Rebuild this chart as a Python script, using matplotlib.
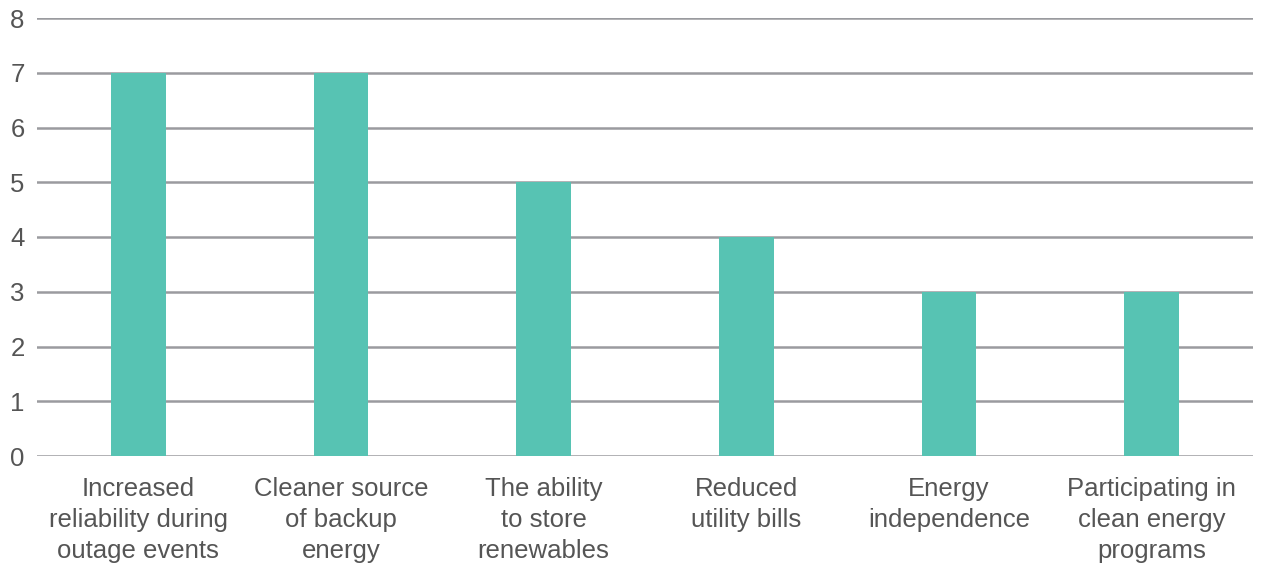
import numpy as np
import matplotlib.pyplot as plt

categories = ["Increased\nreliability during\noutage events",
              "Cleaner source\nof backup\nenergy",
              "The ability\nto store\nrenewables",
              "Reduced\nutility bills",
              "Energy\nindependence",
              "Participating in\nclean energy\nprograms"]
values = [7, 7, 5, 4, 3, 3]

plt.rcParams['font.family'] = ['Liberation Sans', 'DejaVu Sans']

fig = plt.figure(figsize=(12.61, 5.70), dpi=100)
ax = fig.add_axes([37/1261, 114/570, 1216/1261, 438/570])

x = np.arange(len(categories))
ax.bar(x, values, width=0.27, color='#57c3b3', zorder=3)

ax.set_xlim(-0.5, len(categories) - 0.5)
ax.set_ylim(0, 8)
ax.set_yticks(range(0, 9))
ax.yaxis.grid(True, color='#9a9b9f', linewidth=1.8, zorder=0)
ax.set_axisbelow(True)

ax.set_xticks(x)
ax.set_xticklabels(categories, linespacing=1.38)
ax.tick_params(axis='both', length=0, labelsize=18.5, colors='#555555')
ax.tick_params(axis='x', pad=15)
ax.tick_params(axis='y', pad=9)
for s in ax.spines.values():
    s.set_visible(False)

fig.savefig('out.png', dpi=100)
